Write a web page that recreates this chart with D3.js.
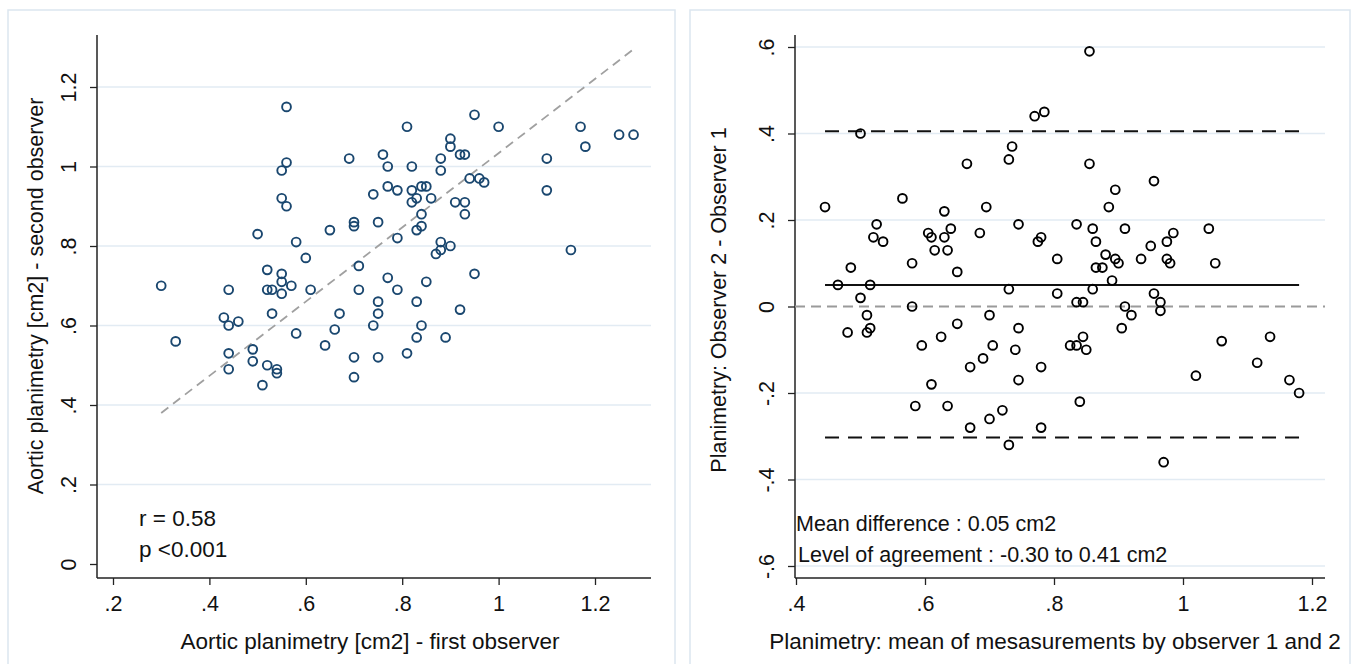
<!DOCTYPE html>
<html>
<head>
<meta charset="utf-8">
<script src="https://cdn.jsdelivr.net/npm/d3@7"></script>
<style>
  html, body { margin: 0; padding: 0; background: #ffffff; }
  svg { display: block; }
  text { font-family: "Liberation Sans", Arial, sans-serif; fill: #111; }
</style>
</head>
<body>
<svg id="chart" width="1357" height="664"></svg>
<script>
// ---------------- DATA ----------------
// Left panel: first vs second observer
const obs1 = [0.30,0.33,0.43,0.44,0.44,0.46,0.44,0.44,0.49,0.49,
  0.51,0.52,0.54,0.54,0.50,0.52,0.52,0.53,0.53,0.55,
  0.55,0.55,0.57,0.56,0.56,0.55,0.55,0.56,0.58,0.58,
  0.60,0.61,0.64,0.65,0.66,0.67,0.69,0.70,0.70,0.70,
  0.70,0.71,0.71,0.74,0.74,0.75,0.75,0.75,0.75,0.76,
  0.77,0.77,0.77,0.79,0.79,0.79,0.81,0.81,0.82,0.82,
  0.82,0.83,0.83,0.83,0.83,0.84,0.85,0.84,0.84,0.84,
  0.86,0.85,0.87,0.88,0.88,0.88,0.88,0.90,0.89,0.90,
  0.90,0.91,0.92,0.93,0.93,0.93,0.92,0.94,0.95,0.95,
  0.96,0.97,1.00,1.10,1.10,1.15,1.17,1.18,1.25,1.28];
const obs2 = [0.70,0.56,0.62,0.69,0.60,0.61,0.53,0.49,0.54,0.51,
  0.45,0.50,0.49,0.48,0.83,0.74,0.69,0.69,0.63,0.73,
  0.71,0.68,0.70,1.15,1.01,0.99,0.92,0.90,0.81,0.58,
  0.77,0.69,0.55,0.84,0.59,0.63,1.02,0.86,0.85,0.52,
  0.47,0.75,0.69,0.93,0.60,0.86,0.66,0.63,0.52,1.03,
  1.00,0.95,0.72,0.94,0.82,0.69,1.10,0.53,1.00,0.94,
  0.91,0.92,0.84,0.66,0.57,0.95,0.95,0.88,0.85,0.60,
  0.92,0.71,0.78,0.79,0.81,1.02,0.99,0.80,0.57,1.07,
  1.05,0.91,1.03,1.03,0.91,0.88,0.64,0.97,1.13,0.73,
  0.97,0.96,1.10,1.02,0.94,0.79,1.10,1.05,1.08,1.08];
const fitX = [0.30, 1.28];
const fitY = [0.38, 1.295];
const leftXTicks = [0.2, 0.4, 0.6, 0.8, 1.0, 1.2];
const leftXLabels = [".2", ".4", ".6", ".8", "1", "1.2"];
const leftYTicks = [0, 0.2, 0.4, 0.6, 0.8, 1.0, 1.2];
const leftYLabels = ["0", ".2", ".4", ".6", ".8", "1", "1.2"];
const leftStats = ["r = 0.58", "p <0.001"];

// Right panel: Bland-Altman
const baMean = [0.50,0.445,0.525,0.565,0.52,0.535,0.485,0.465,0.515,0.50,
  0.48,0.51,0.515,0.51,0.665,0.63,0.605,0.61,0.58,0.64,
  0.63,0.615,0.635,0.855,0.785,0.77,0.735,0.73,0.695,0.58,
  0.685,0.65,0.595,0.745,0.625,0.65,0.855,0.78,0.775,0.61,
  0.585,0.73,0.70,0.835,0.67,0.805,0.705,0.69,0.635,0.895,
  0.885,0.86,0.745,0.865,0.805,0.74,0.955,0.67,0.91,0.88,
  0.865,0.875,0.835,0.745,0.70,0.895,0.90,0.86,0.845,0.72,
  0.89,0.78,0.825,0.835,0.845,0.95,0.935,0.85,0.73,0.985,
  0.975,0.91,0.975,0.98,0.92,0.905,0.78,0.955,1.04,0.84,
  0.965,0.965,1.05,1.06,1.02,0.97,1.135,1.115,1.165,1.18];
const baDiff = [0.40,0.23,0.19,0.25,0.16,0.15,0.09,0.05,0.05,0.02,
  -0.06,-0.02,-0.05,-0.06,0.33,0.22,0.17,0.16,0.10,0.18,
  0.16,0.13,0.13,0.59,0.45,0.44,0.37,0.34,0.23,0.00,
  0.17,0.08,-0.09,0.19,-0.07,-0.04,0.33,0.16,0.15,-0.18,
  -0.23,0.04,-0.02,0.19,-0.14,0.11,-0.09,-0.12,-0.23,0.27,
  0.23,0.18,-0.05,0.15,0.03,-0.10,0.29,-0.28,0.18,0.12,
  0.09,0.09,0.01,-0.17,-0.26,0.11,0.10,0.04,0.01,-0.24,
  0.06,-0.14,-0.09,-0.09,-0.07,0.14,0.11,-0.10,-0.32,0.17,
  0.15,0.00,0.11,0.10,-0.02,-0.05,-0.28,0.03,0.18,-0.22,
  0.01,-0.01,0.10,-0.08,-0.16,-0.36,-0.07,-0.13,-0.17,-0.20];
const meanDiff = 0.05;
const loaLower = -0.303;
const loaUpper = 0.405;
const refRange = [0.445, 1.18];
const rightXTicks = [0.4, 0.6, 0.8, 1.0, 1.2];
const rightXLabels = [".4", ".6", ".8", "1", "1.2"];
const rightYTicks = [-0.6, -0.4, -0.2, 0, 0.2, 0.4, 0.6];
const rightYLabels = ["-.6", "-.4", "-.2", "0", ".2", ".4", ".6"];
const rightNotes = ["Mean difference : 0.05 cm2", "Level of agreement : -0.30 to 0.41 cm2"];

const titles = {
  leftX: "Aortic planimetry [cm2] - first observer",
  leftY: "Aortic planimetry [cm2] - second observer",
  rightX: "Planimetry: mean of mesasurements by observer 1 and 2",
  rightY: "Planimetry: Observer 2 - Observer 1"
};

// ---------------- DRAW ----------------
const svg = d3.select("#chart");
const FONT = 21.5;
const XTITLE_FONT = 22.5;
const GRID = "#e2ebf3";
const FRAME = "#dce6ef";

function panel(opt) {
  const g = svg.append("g");
  g.append("rect").attr("x", opt.frame[0]).attr("y", opt.frame[1])
    .attr("width", opt.frame[2]).attr("height", opt.frame[3])
    .attr("fill", "#fff").attr("stroke", FRAME).attr("stroke-width", 1.5);

  const x = d3.scaleLinear().domain(opt.xDom).range(opt.xRange);
  const y = d3.scaleLinear().domain(opt.yDom).range(opt.yRange);
  const [L, R, T, B] = opt.box;

  g.append("g").selectAll("line").data(opt.gridTicks).join("line")
    .attr("x1", L).attr("x2", R)
    .attr("y1", d => y(d)).attr("y2", d => y(d))
    .attr("stroke", GRID).attr("stroke-width", 1.6);

  const yAxis = d3.axisLeft(y).tickValues(opt.yTicks)
    .tickFormat((d, i) => opt.yLabels[i]).tickSize(7).tickPadding(0);
  const yg = g.append("g").attr("transform", `translate(${L},0)`).call(yAxis);
  yg.select(".domain").remove();
  yg.selectAll(".tick line").attr("stroke", "#222").attr("stroke-width", 1.3);
  yg.selectAll(".tick text")
    .attr("x", 0).attr("dy", 0).attr("y", -21)
    .attr("transform", "rotate(-90)")
    .attr("text-anchor", "middle")
    .style("font-size", FONT + "px").style("font-family", "Liberation Sans, Arial, sans-serif")
    .attr("fill", "#111");

  const xAxis = d3.axisBottom(x).tickValues(opt.xTicks)
    .tickFormat((d, i) => opt.xLabels[i]).tickSize(7).tickPadding(11);
  const xg = g.append("g").attr("transform", `translate(0,${B})`).call(xAxis);
  xg.select(".domain").remove();
  xg.selectAll(".tick line").attr("stroke", "#222").attr("stroke-width", 1.3);
  xg.selectAll(".tick text")
    .style("font-size", FONT + "px").style("font-family", "Liberation Sans, Arial, sans-serif")
    .attr("fill", "#111");

  g.append("line").attr("x1", L).attr("x2", L).attr("y1", T).attr("y2", B)
    .attr("stroke", "#222").attr("stroke-width", 1.5);
  g.append("line").attr("x1", L).attr("x2", R).attr("y1", B).attr("y2", B)
    .attr("stroke", "#222").attr("stroke-width", 1.5);

  g.append("text").attr("x", opt.xTitlePos[0]).attr("y", opt.xTitlePos[1])
    .attr("text-anchor", "middle").style("font-size", XTITLE_FONT + "px").text(opt.xTitle);
  g.append("text").attr("transform", `translate(${opt.yTitlePos[0]},${opt.yTitlePos[1]}) rotate(-90)`)
    .attr("text-anchor", "middle").style("font-size", FONT + "px").text(opt.yTitle);

  return { g, x, y };
}

// Left panel
const left = panel({
  frame: [8, 10, 667, 670],
  xDom: [0.2, 1.2], xRange: [113, 595],
  yDom: [0, 1.2], yRange: [564, 87],
  box: [97, 651, 35, 578],
  gridTicks: leftYTicks.filter(d => d > 0),
  xTicks: leftXTicks, xLabels: leftXLabels,
  yTicks: leftYTicks, yLabels: leftYLabels,
  xTitle: titles.leftX, xTitlePos: [370, 649],
  yTitle: titles.leftY, yTitlePos: [43, 296]
});

left.g.append("line")
  .attr("x1", left.x(fitX[0])).attr("y1", left.y(fitY[0]))
  .attr("x2", left.x(fitX[1])).attr("y2", left.y(fitY[1]))
  .attr("stroke", "#a0a0a0").attr("stroke-width", 1.8).attr("stroke-dasharray", "9,6");

left.g.append("g").selectAll("circle").data(obs1.map((v, i) => [v, obs2[i]])).join("circle")
  .attr("cx", d => left.x(d[0])).attr("cy", d => left.y(d[1])).attr("r", 4.4)
  .attr("fill", "none").attr("stroke", "#1a476f").attr("stroke-width", 1.9);

left.g.append("g").selectAll("text").data(leftStats).join("text")
  .attr("x", 139).attr("y", (d, i) => 526 + i * 31)
  .style("font-size", XTITLE_FONT + "px").text(d => d);

// Right panel
const right = panel({
  frame: [690, 10, 660, 670],
  xDom: [0.4, 1.2], xRange: [796, 1312],
  yDom: [-0.6, 0.6], yRange: [566, 47],
  box: [795, 1325, 35, 578],
  gridTicks: rightYTicks.filter(d => d !== 0),
  xTicks: rightXTicks, xLabels: rightXLabels,
  yTicks: rightYTicks, yLabels: rightYLabels,
  xTitle: titles.rightX, xTitlePos: [1055, 649],
  yTitle: titles.rightY, yTitlePos: [726, 300]
});

right.g.append("line")
  .attr("x1", 795).attr("x2", 1325)
  .attr("y1", right.y(0)).attr("y2", right.y(0))
  .attr("stroke", "#9a9a9a").attr("stroke-width", 1.8).attr("stroke-dasharray", "10,6");
[loaUpper, loaLower].forEach(v => {
  right.g.append("line")
    .attr("x1", right.x(refRange[0])).attr("x2", right.x(refRange[1]))
    .attr("y1", right.y(v)).attr("y2", right.y(v))
    .attr("stroke", "#111").attr("stroke-width", 2).attr("stroke-dasharray", "14,9");
});
right.g.append("line")
  .attr("x1", right.x(refRange[0])).attr("x2", right.x(refRange[1]))
  .attr("y1", right.y(meanDiff)).attr("y2", right.y(meanDiff))
  .attr("stroke", "#111").attr("stroke-width", 2);

right.g.append("g").selectAll("circle").data(baMean.map((v, i) => [v, baDiff[i]])).join("circle")
  .attr("cx", d => right.x(d[0])).attr("cy", d => right.y(d[1])).attr("r", 4.4)
  .attr("fill", "none").attr("stroke", "#000").attr("stroke-width", 1.9);

right.g.append("g").selectAll("text").data(rightNotes).join("text")
  .attr("x", (d, i) => 796 + i * 2).attr("y", (d, i) => 531 + i * 31)
  .style("font-size", FONT + "px").text(d => d);
</script>
</body>
</html>
